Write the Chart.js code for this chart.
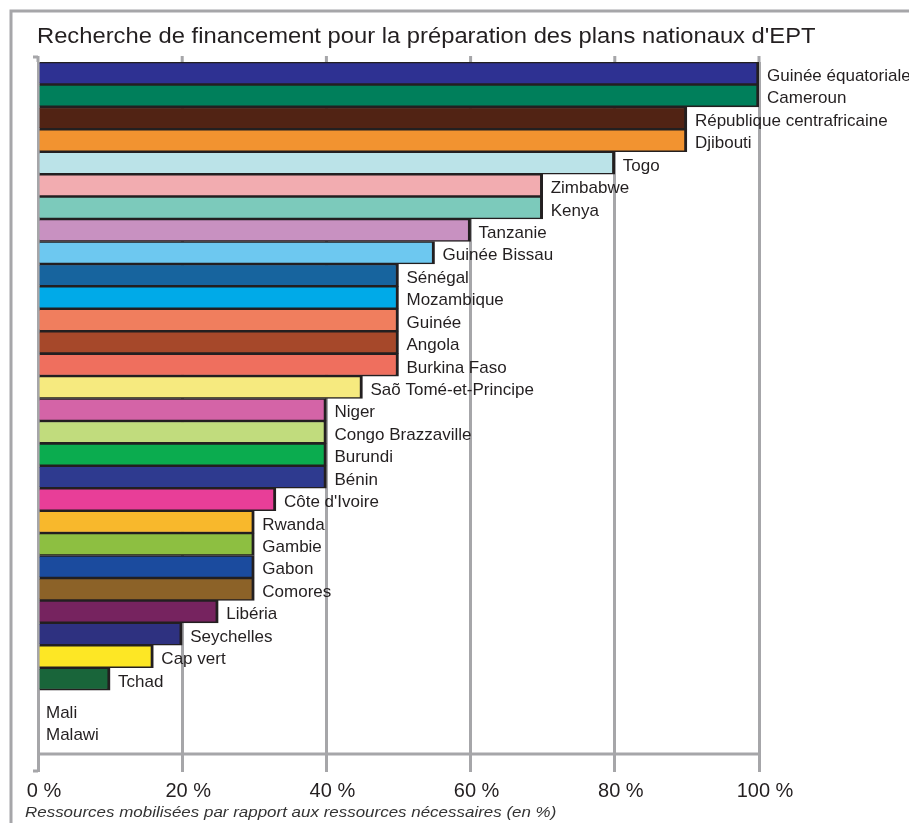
<!DOCTYPE html>
<html lang="fr">
<head>
<meta charset="utf-8">
<title>Recherche de financement pour la préparation des plans nationaux d'EPT</title>
<script src="https://cdn.jsdelivr.net/npm/chart.js@4"></script>
<style>
  html, body { margin: 0; padding: 0; background: #fff; }
  #wrap { width: 909px; height: 823px; }
</style>
</head>
<body>
<div id="wrap"><canvas id="chart" width="909" height="823"></canvas></div>
<script>
// Données
const pays = [
  "Guinée équatoriale", "Cameroun", "République centrafricaine", "Djibouti",
  "Togo", "Zimbabwe", "Kenya", "Tanzanie", "Guinée Bissau", "Sénégal",
  "Mozambique", "Guinée", "Angola", "Burkina Faso", "Saõ Tomé-et-Principe",
  "Niger", "Congo Brazzaville", "Burundi", "Bénin", "Côte d'Ivoire",
  "Rwanda", "Gambie", "Gabon", "Comores", "Libéria", "Seychelles",
  "Cap vert", "Tchad", "Mali", "Malawi"
];
const ressources = [
  100, 100, 90, 90, 80, 70, 70, 60, 55, 50,
  50, 50, 50, 50, 45, 40, 40, 40, 40, 33,
  30, 30, 30, 30, 25, 20, 16, 10, 0, 0
];
const couleurs = [
  "#2e3192", "#007f5b", "#512314", "#f29330", "#bbe3e8", "#f2acb0",
  "#7ccabb", "#c891c1", "#6dc8f0", "#17649e", "#00aae8", "#f07e5e",
  "#a6482a", "#ef6f5e", "#f6ea7f", "#d464a7", "#c1dc7d", "#0bac4f",
  "#2e3a8f", "#e83e98", "#f8b82c", "#8dbf41", "#1b4b9e", "#8c6228",
  "#76235f", "#2e3180", "#fde725", "#19653a", "#ffffff", "#ffffff"
];
const ticksX = [0, 20, 40, 60, 80, 100];

const titre = "Recherche de financement pour la préparation des plans nationaux d'EPT";
const titreAxe = "Ressources mobilisées par rapport aux ressources nécessaires (en %)";

const gris = "#a6a6a9";
const noir = "#231f20";
const police = "'Liberation Sans', Arial, sans-serif";

// texte un peu étiré en largeur, comme sur l'original
function texteEtire(ctx, txt, x, y, font, sx) {
  ctx.save();
  ctx.font = font;
  ctx.translate(x, y);
  ctx.scale(sx, 1);
  ctx.fillText(txt, 0, 0);
  ctx.restore();
}

// Cadre, titre et petits repères autour de la zone du graphique
const decor = {
  id: "decor",
  beforeDraw(chart) {
    const ctx = chart.ctx;
    const area = chart.chartArea;
    const x = chart.scales.x;
    const x0 = x.getPixelForValue(0);
    ctx.save();
    ctx.strokeStyle = gris;
    ctx.lineWidth = 3;
    ctx.beginPath();
    ctx.moveTo(11, 823);
    ctx.lineTo(11, 11);
    ctx.lineTo(909, 11);
    ctx.stroke();

    // petites graduations au-dessus de la zone
    ctx.beginPath();
    ticksX.forEach(function (v) {
      const px = x.getPixelForValue(v);
      ctx.moveTo(px, area.top - 6);
      ctx.lineTo(px, area.top);
    });
    ctx.moveTo(x0 - 5, area.top - 5);
    ctx.lineTo(x0, area.top - 5);
    ctx.moveTo(x0 - 5, area.bottom + 36);
    ctx.lineTo(x0, area.bottom + 36);
    // ligne horizontale du bas
    ctx.moveTo(x0, area.bottom + 19);
    ctx.lineTo(x.getPixelForValue(100), area.bottom + 19);
    ctx.stroke();

    ctx.textBaseline = "alphabetic";
    ctx.fillStyle = noir;
    texteEtire(ctx, titre, 37, 43, "22px " + police, 1.08);
    ctx.fillStyle = "#333";
    texteEtire(ctx, titreAxe, 25, 817, "italic 15px " + police, 1.13);
    ctx.restore();
  }
};

// Nom du pays à droite de chaque barre
const etiquettes = {
  id: "etiquettes",
  afterDatasetsDraw(chart) {
    const ctx = chart.ctx;
    const meta = chart.getDatasetMeta(0);
    ctx.save();
    ctx.fillStyle = noir;
    ctx.font = "17px " + police;
    ctx.textBaseline = "middle";
    ctx.textAlign = "left";
    meta.data.forEach(function (bar, i) {
      const decal = ressources[i] === 0 ? 12 : 3; // Mali et Malawi plus bas
      ctx.fillText(pays[i], bar.x + 8, bar.y + decal);
    });
    ctx.restore();
  }
};

const chart = new Chart(document.getElementById("chart"), {
  type: "bar",
  data: {
    labels: pays,
    datasets: [
      {
        data: ressources,
        backgroundColor: couleurs,
        borderColor: noir,
        borderWidth: { left: 0, top: 1.6, bottom: 1.6, right: 3 },
        borderSkipped: "start",
        barPercentage: 1,
        categoryPercentage: 1,
      },
    ],
  },
  options: {
    indexAxis: "y",
    responsive: false,
    animation: false,
    layout: { padding: { left: 38, right: 150, top: 62, bottom: 0 } },
    plugins: {
      legend: { display: false },
      tooltip: { enabled: false },
      title: { display: false },
    },
    scales: {
      x: {
        type: "linear",
        min: 0,
        max: 100,
        afterBuildTicks: function (scale) {
          scale.ticks = ticksX.map(function (v) { return { value: v }; });
        },
        afterFit: function (scale) {
          scale.height = 88;
        },
        ticks: {
          callback: function (v) { return v + " %"; },
          color: noir,
          font: { family: police, size: 20 },
          padding: 7,
          labelOffset: 6,
          maxRotation: 0,
        },
        grid: {
          color: gris,
          lineWidth: 3,
          tickLength: 37,
          drawTicks: true,
        },
        border: { display: false },
      },
      y: {
        type: "category",
        display: false,
      },
    },
  },
  plugins: [decor, etiquettes],
});
</script>
</body>
</html>
